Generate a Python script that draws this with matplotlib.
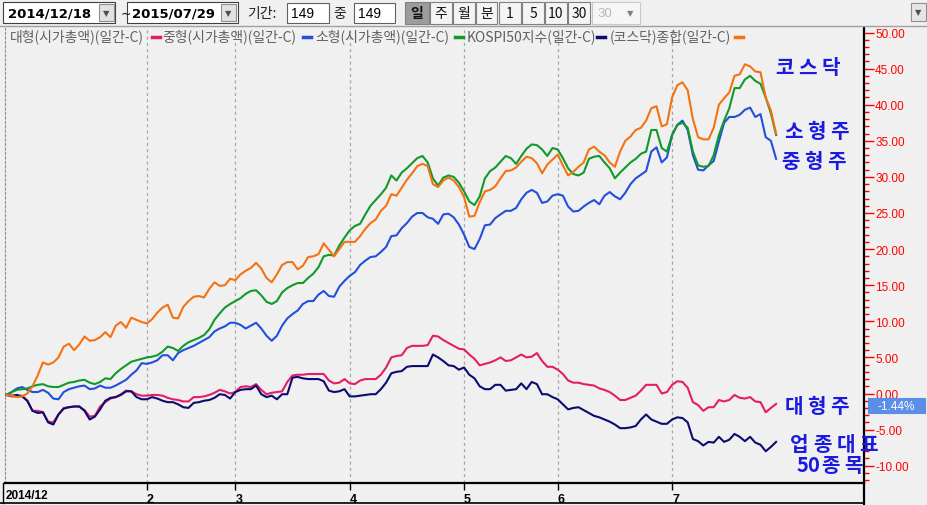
import numpy as np
import matplotlib.pyplot as plt
from matplotlib.lines import Line2D
from matplotlib.patches import Rectangle
from matplotlib.ticker import MultipleLocator

plt.rcParams['font.family'] = ['Noto Sans CJK KR', 'DejaVu Sans']

W, H = 928, 506
BG = '#f0f0f0'

# daily change (%) since 2014/12/18, 149 trading days
large = [-0.2, -0.4, -0.4, -0.3, -1.0, -2.4, -2.4, -2.6, -3.9, -4.0,
         -2.9, -2.0, -1.9, -1.8, -1.8, -2.3, -3.2, -3.1, -1.8, -1.2,
         -0.7, -0.5, -0.1, 0.4, 0.3, -0.1, -0.3, -0.3, -0.2, -0.2,
         -0.3, -0.6, -0.8, -0.9, -1.1, -1.1, -0.5, -0.5, -0.4, -0.2,
         0.1, 0.5, 0.3, 0.0, 0.2, 0.9, 1.0, 0.9, 1.3, 0.5,
         -0.1, 0.1, 0.2, 0.3, 1.6, 2.5, 2.6, 2.6, 2.7, 2.7,
         2.7, 2.7, 1.8, 1.4, 1.5, 2.0, 1.4, 1.3, 1.8, 2.0,
         2.0, 2.0, 2.6, 3.6, 5.0, 5.2, 5.3, 6.3, 6.6, 6.6,
         6.6, 6.7, 8.0, 7.9, 7.4, 7.0, 6.6, 6.2, 6.1, 5.4,
         4.8, 3.9, 4.1, 4.3, 4.6, 5.0, 4.5, 4.6, 5.0, 5.4,
         5.0, 5.1, 5.6, 4.5, 3.7, 3.7, 3.3, 2.7, 1.8, 1.5,
         1.5, 1.3, 1.2, 1.1, 0.7, 0.5, 0.2, -0.3, -0.9, -0.9,
         -0.6, -0.3, 0.4, 1.2, 1.2, 1.2, 0.0, 0.2, 1.2, 1.7,
         1.6, 0.8, -1.2, -1.6, -2.4, -1.9, -1.9, -0.9, -1.1, -0.9,
         -0.2, -0.6, -0.7, -0.5, -1.1, -1.2, -2.6, -2.0, -1.44]

mid = [-0.2, 0.2, 0.7, 0.9, 0.5, 0.2, 0.2, 0.5, 0.1, -0.7,
       -0.8, 0.2, 0.6, 0.8, 1.0, 1.1, 0.6, 0.7, 1.1, 0.8,
       0.8, 1.1, 1.5, 1.9, 2.6, 3.2, 4.2, 4.1, 4.3, 4.6,
       5.3, 5.3, 4.6, 5.6, 6.0, 6.3, 6.6, 7.0, 7.4, 7.8,
       8.6, 9.0, 9.3, 9.8, 9.8, 9.5, 9.0, 9.4, 9.8, 9.0,
       8.0, 7.3, 8.0, 9.4, 10.4, 11.0, 11.5, 12.4, 12.8, 12.8,
       13.7, 14.2, 13.5, 13.4, 14.8, 15.6, 16.3, 16.8, 17.8, 18.4,
       18.9, 19.0, 19.6, 20.3, 21.8, 21.9, 22.9, 23.6, 24.5, 25.0,
       25.0, 24.4, 24.2, 23.5, 24.8, 24.9, 24.4, 23.4, 22.0, 20.3,
       20.0, 21.4, 23.3, 23.4, 24.3, 24.8, 25.3, 25.3, 25.7, 26.9,
       27.8, 28.2, 27.8, 26.4, 26.6, 27.4, 27.6, 27.4, 25.9, 25.2,
       25.3, 25.9, 26.4, 26.8, 26.2, 27.4, 27.9, 27.3, 26.9, 27.8,
       29.0, 29.8, 30.3, 30.8, 33.5, 34.1, 32.0, 32.7, 35.8, 37.2,
       37.8, 36.5, 33.0, 31.0, 30.9, 31.6, 32.2, 34.9, 37.5, 38.3,
       38.3, 38.6, 39.3, 39.6, 38.3, 38.7, 35.5, 35.0, 32.5]

small = [-0.2, 0.2, 0.5, 0.6, 0.7, 1.0, 1.2, 1.3, 1.0, 0.9,
         0.9, 1.2, 1.5, 1.6, 1.8, 1.9, 1.5, 1.3, 1.6, 2.1,
         2.0, 2.8, 3.4, 3.9, 4.4, 4.6, 4.8, 5.0, 5.1, 5.3,
         5.8, 6.5, 6.3, 5.9, 6.6, 7.1, 7.4, 7.7, 8.1, 8.9,
         10.2, 11.1, 11.9, 12.4, 12.8, 13.2, 13.8, 14.2, 14.3, 13.6,
         12.7, 12.4, 12.8, 14.0, 14.6, 15.0, 15.3, 15.3, 16.0, 16.6,
         17.5, 19.0, 19.2, 19.1, 20.5, 21.6, 22.6, 23.2, 23.5, 24.8,
         26.0, 26.8, 27.6, 28.5, 30.2, 29.5, 30.6, 31.2, 31.9, 32.6,
         32.9, 32.0, 29.8, 28.8, 29.9, 30.2, 30.0, 29.2, 28.0, 26.6,
         26.1, 27.3, 29.8, 30.8, 31.3, 32.1, 32.9, 32.6, 31.8, 32.9,
         33.9, 34.5, 34.4, 33.8, 32.9, 34.0, 33.8, 32.6, 31.2, 30.4,
         30.2, 30.6, 32.5, 32.8, 32.9, 32.0, 31.2, 29.8, 30.6, 31.3,
         32.0, 32.5, 33.2, 33.5, 36.5, 36.5, 34.0, 33.5, 35.8, 37.2,
         37.5, 36.8, 33.5, 31.6, 31.4, 31.5, 33.0, 35.8, 37.8, 39.5,
         42.3, 42.3, 43.5, 44.0, 43.3, 42.9, 41.0, 38.8, 35.8]

kospi50 = [-0.2, -0.3, -0.2, -0.4, -1.0, -2.4, -2.7, -2.6, -4.0, -4.3,
           -2.9, -2.1, -1.9, -1.8, -1.8, -2.4, -3.6, -3.2, -2.2, -1.0,
           -0.6, -0.5, -0.2, 0.3, 0.3, -0.5, -0.8, -0.8, -0.5, -0.7,
           -1.0, -1.2, -1.2, -1.5, -1.9, -2.0, -1.3, -1.2, -1.0, -0.9,
           -0.6, -0.1, -0.2, -0.7, 0.2, 0.5, 0.6, 0.6, 1.1, -0.1,
           -0.5, -0.3, -0.8, -0.1, -0.1, 2.2, 2.3, 2.1, 2.0, 2.0,
           2.0, 1.7, 0.4, 0.2, 0.3, 0.6, -0.4, -0.4, -0.3, -0.2,
           -0.1, -0.1, 0.6, 1.5, 2.8, 3.0, 3.1, 3.7, 3.8, 3.8,
           3.8, 3.8, 5.4, 5.0, 4.5, 3.9, 3.8, 3.3, 3.6, 2.6,
           2.1, 1.0, 0.6, 0.6, 1.2, 1.2, 0.4, 0.5, 0.6, 1.4,
           0.6, 1.6, 1.3, -0.1, -0.1, -0.5, -0.8, -1.5, -2.2, -2.0,
           -1.9, -2.3, -2.7, -3.1, -3.3, -3.6, -3.9, -4.3, -4.8, -4.8,
           -4.7, -4.5, -3.6, -2.9, -3.6, -3.9, -4.2, -4.2, -3.6, -3.3,
           -3.4, -4.0, -6.3, -6.6, -7.2, -6.7, -6.8, -6.0, -6.7, -6.4,
           -5.6, -6.0, -6.6, -6.0, -6.8, -7.1, -8.0, -7.4, -6.7]

kosdaq = [-0.2, -0.3, -0.5, -0.4, 0.0, 1.0, 2.5, 4.3, 4.0, 4.3,
          5.0, 6.5, 6.9, 6.0, 6.8, 7.9, 7.3, 7.4, 7.8, 8.5,
          7.8, 9.4, 9.9, 9.1, 10.5, 10.2, 9.9, 9.7, 10.3, 11.2,
          11.9, 12.3, 10.5, 10.4, 12.0, 12.8, 13.4, 13.5, 13.3, 14.5,
          15.4, 14.9, 15.0, 15.9, 15.7, 16.5, 17.0, 17.4, 18.1, 17.3,
          16.0, 15.4, 16.5, 17.8, 18.2, 18.2, 17.2, 17.7, 18.9, 19.0,
          19.3, 20.8, 19.9, 19.0, 20.0, 21.0, 21.0, 21.0, 21.8, 22.8,
          23.6, 24.1, 25.3, 26.0, 27.6, 27.4, 28.5, 29.6, 30.5, 31.5,
          31.8, 31.5, 29.0, 28.6, 29.5, 29.9, 29.5, 28.6, 27.2, 24.5,
          24.6, 26.5, 28.0, 28.2, 28.7, 29.8, 30.8, 30.9, 31.3, 32.1,
          32.8, 32.6, 31.9, 30.5, 31.7, 32.4, 33.1, 31.6, 30.2, 30.7,
          31.4, 32.0, 33.8, 34.2, 33.5, 33.0, 32.0, 31.4, 33.5, 35.0,
          35.6, 36.5, 36.8, 37.8, 39.5, 39.8, 37.0, 37.3, 41.0, 42.7,
          43.1, 42.0, 38.0, 35.5, 35.2, 35.2, 36.8, 40.0, 40.9, 41.7,
          44.0, 44.2, 45.6, 45.3, 44.6, 44.5, 41.0, 39.2, 36.0]

month_idx = [27, 44, 66, 88, 106, 128]
month_labels = ['2', '3', '4', '5', '6', '7']

series_names = ['대형(시가총액)(일간-C)', '중형(시가총액)(일간-C)', '소형(시가총액)(일간-C)',
                'KOSPI50지수(일간-C)', '(코스닥)종합(일간-C)']
series_colors = ['#e41e64', '#2250dc', '#109a28', '#0c0c70', '#f57212']
legend_x = [10, 162, 315, 467, 610]
marker_x = [152, 303, 455, 597, 735]

fig = plt.figure(figsize=(W / 100, H / 100), dpi=100, facecolor=BG)


def fx(x):
    return x / W


def fy(y):
    return 1 - y / H


def box(x0, y0, x1, y1, fc, ec='#7a7a7a', lw=0.8):
    fig.patches.append(Rectangle((fx(x0), fy(y1)), (x1 - x0) / W, (y1 - y0) / H,
                                 transform=fig.transFigure, fc=fc, ec=ec, lw=lw))


def ftext(x, y, s, **kw):
    kw.setdefault('va', 'center')
    return fig.text(fx(x), fy(y), s, **kw)


def fline(xs, ys, **kw):
    fig.add_artist(Line2D([fx(v) for v in xs], [fy(v) for v in ys], **kw))


# plot area
ax = fig.add_axes([fx(5), fy(484), (864 - 5) / W, (484 - 29) / H])
ax.set_facecolor(BG)
x = np.arange(len(large))
for vals, col in zip([large, mid, small, kospi50, kosdaq], series_colors):
    ax.plot(x, vals, color=col, lw=1.5, zorder=3)

ax.set_xlim((5 - 6.5) / 5.2, (864 - 6.5) / 5.2)
ax.set_ylim((394.5 - 484) / 7.22, (394.5 - 29) / 7.22)

for m in month_idx:
    ax.axvline(m, color='#a8a8a8', lw=0.9, ls=(0, (2.5, 2.5)), zorder=1)

ax.yaxis.tick_right()
yt = np.arange(-10, 51, 5)
ax.set_yticks(yt)
ax.set_yticklabels([f'{v:.2f}' for v in yt], family='Liberation Sans')
ax.yaxis.set_minor_locator(MultipleLocator(1))
ax.tick_params(axis='y', which='major', direction='out', length=7, width=1,
               color='#ff0000', labelcolor='#ff0000', pad=1, labelsize=8.5)
ax.tick_params(axis='y', which='minor', direction='out', length=3.5, width=1,
               color='#ff0000')

ax.set_xticks(month_idx)
ax.set_xticklabels(month_labels, family='Liberation Sans', weight='bold', ha='left')
ax.tick_params(axis='x', direction='out', length=5, width=1, color='black',
               pad=2, labelsize=9)

ax.spines['top'].set_visible(False)
ax.spines['left'].set_color('#909090')
ax.spines['left'].set_linestyle((0, (2, 2)))
ax.spines['right'].set_linewidth(1.6)
ax.spines['bottom'].set_linewidth(1.6)

ftext(6, 496, '2014/12', family='Liberation Sans', weight='bold', fontsize=8.5)
fline([0, 864], [504, 504], color='black', lw=1.2)
fline([864, 864], [484, 506], color='black', lw=1.6)
fline([3, 3], [484, 504], color='black', lw=1.0)

# legend row
for name, col, lx, mx in zip(series_names, series_colors, legend_x, marker_x):
    ftext(lx, 37, name, color='#606060', fontsize=10)
    fline([mx, mx + 8], [37.5, 37.5], color=col, lw=2.5)

# right side labels, drawn one glyph at a time for the wide spacing
labels = [('코스닥', 773, 68), ('소형주', 782, 131), ('중형주', 779, 162),
          ('대형주', 782, 407), ('업종대표', 788, 445), ('50종목', 797, 466)]
for s, lx, ly in labels:
    cx = lx
    for ch in s:
        wd = 11 if ch.isdigit() else 23
        ftext(cx + wd / 2, ly, ch, color='#1a1ae0', fontsize=14.5, weight='bold',
              ha='center', zorder=10)
        cx += wd

box(868, 399, 925, 414, '#5b8ee6', ec='#5b8ee6')
ftext(896.5, 406.5, f'{large[-1]:.2f}%', color='white', ha='center',
      family='Liberation Sans', fontsize=8.5)

# toolbar
fline([0, W], [27, 27], color='#a0a0a0', lw=1)
box(3, 3, 115, 24, 'white', '#404040')
ftext(8, 14, '2014/12/18', family='DejaVu Sans', weight='bold', fontsize=9.5)
box(99, 5, 114, 22, '#e2e2e2', '#909090')
ftext(106.5, 14, '▼', family='DejaVu Sans', fontsize=6, color='#505050', ha='center')
ftext(121, 14, '~', family='DejaVu Sans', fontsize=9)
box(127, 3, 238, 24, 'white', '#404040')
ftext(132, 14, '2015/07/29', family='DejaVu Sans', weight='bold', fontsize=9.5)
box(221, 5, 236, 22, '#e2e2e2', '#909090')
ftext(228.5, 14, '▼', family='DejaVu Sans', fontsize=6, color='#505050', ha='center')
ftext(247, 14, '기간:', fontsize=10, color='#202020')
box(287, 4, 329, 24, 'white', '#606060')
ftext(291, 14, '149', family='Liberation Sans', fontsize=10)
ftext(333, 14, '중', fontsize=10, color='#202020')
box(354, 4, 395, 24, 'white', '#606060')
ftext(358, 14, '149', family='Liberation Sans', fontsize=10)

buttons = [('일', 405, 429), ('주', 430, 452), ('월', 453, 475), ('분', 476, 497),
           ('1', 499, 521), ('5', 522, 544), ('10', 545, 567), ('30', 568, 590)]
for s, b0, b1 in buttons:
    pressed = s == '일'
    box(b0, 3, b1, 25, '#9c9c9c' if pressed else '#f4f4f4', '#808080')
    ftext((b0 + b1) / 2, 14, s, ha='center', fontsize=10,
          weight='bold' if pressed else 'normal', color='#101010')
box(592, 3, 640, 25, '#f6f6f6', '#c8c8c8')
ftext(597, 14, '30', family='Liberation Sans', fontsize=9.5, color='#b8b8b8')
ftext(630, 14, '▼', family='DejaVu Sans', fontsize=6, color='#808080', ha='center')
box(911, 4, 926, 22, '#e6e6e6', '#909090')
ftext(918.5, 13, '▼', family='DejaVu Sans', fontsize=6, color='#505050', ha='center')

fig.savefig('out.png', dpi=100, facecolor=BG)
